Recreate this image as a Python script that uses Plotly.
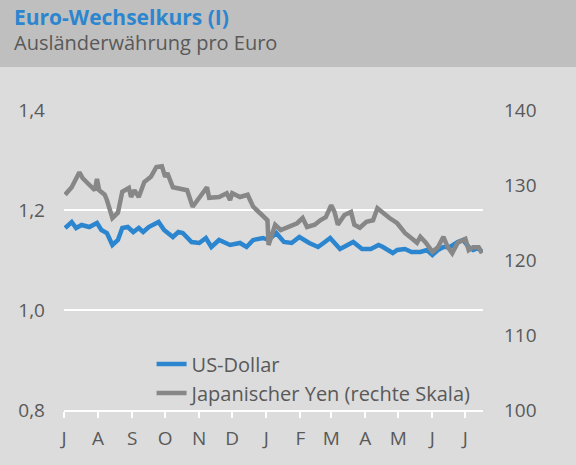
import plotly.graph_objects as go

# ---- data ----
usd_dates = ["2018-07-02", "2018-07-08", "2018-07-12", "2018-07-17", "2018-07-24", "2018-07-31",
             "2018-08-04", "2018-08-09", "2018-08-14", "2018-08-19", "2018-08-23", "2018-08-28",
             "2018-09-02", "2018-09-07", "2018-09-11", "2018-09-16", "2018-09-25", "2018-09-30",
             "2018-10-08", "2018-10-13", "2018-10-17", "2018-10-25", "2018-11-01", "2018-11-07",
             "2018-11-12", "2018-11-19", "2018-11-29", "2018-12-08", "2018-12-14", "2018-12-20",
             "2018-12-29", "2019-01-03", "2019-01-10", "2019-01-17", "2019-01-24", "2019-01-31",
             "2019-02-09", "2019-02-17", "2019-02-22", "2019-02-28", "2019-03-09", "2019-03-15",
             "2019-03-21", "2019-03-29", "2019-04-06", "2019-04-13", "2019-04-17", "2019-04-26",
             "2019-04-30", "2019-05-07", "2019-05-13", "2019-05-21", "2019-05-27", "2019-06-01",
             "2019-06-06", "2019-06-11", "2019-06-17", "2019-06-24", "2019-06-29", "2019-07-04",
             "2019-07-08", "2019-07-13", "2019-07-16"]
usd_values = [1.164, 1.176, 1.164, 1.170, 1.166, 1.174,
              1.160, 1.154, 1.130, 1.140, 1.164, 1.166,
              1.156, 1.164, 1.156, 1.166, 1.176, 1.160,
              1.146, 1.156, 1.154, 1.136, 1.134, 1.144,
              1.126, 1.140, 1.130, 1.134, 1.126, 1.140,
              1.144, 1.140, 1.154, 1.136, 1.134, 1.146,
              1.134, 1.126, 1.134, 1.144, 1.122, 1.130,
              1.136, 1.122, 1.122, 1.130, 1.126, 1.114,
              1.120, 1.122, 1.116, 1.116, 1.120, 1.110,
              1.120, 1.126, 1.126, 1.136, 1.140, 1.126,
              1.120, 1.124, 1.116]

jpy_dates = ["2018-07-02", "2018-07-08", "2018-07-15", "2018-07-18", "2018-07-29", "2018-07-31",
             "2018-08-02", "2018-08-07", "2018-08-09", "2018-08-14", "2018-08-19", "2018-08-23",
             "2018-08-29", "2018-08-31", "2018-09-03", "2018-09-07", "2018-09-12", "2018-09-18",
             "2018-09-23", "2018-09-28", "2018-10-01", "2018-10-03", "2018-10-08", "2018-10-16",
             "2018-10-21", "2018-10-26", "2018-11-01", "2018-11-08", "2018-11-10", "2018-11-19",
             "2018-11-26", "2018-11-29", "2018-12-01", "2018-12-08", "2018-12-15", "2018-12-20",
             "2018-12-28", "2019-01-02", "2019-01-03", "2019-01-09", "2019-01-14", "2019-01-20",
             "2019-01-29", "2019-02-03", "2019-02-07", "2019-02-14", "2019-02-19", "2019-02-24",
             "2019-03-01", "2019-03-04", "2019-03-07", "2019-03-13", "2019-03-19", "2019-03-22",
             "2019-03-27", "2019-04-02", "2019-04-08", "2019-04-12", "2019-04-19", "2019-04-23",
             "2019-04-30", "2019-05-07", "2019-05-13", "2019-05-18", "2019-05-21", "2019-05-26",
             "2019-06-01", "2019-06-06", "2019-06-11", "2019-06-15", "2019-06-19", "2019-06-24",
             "2019-07-01", "2019-07-04", "2019-07-08", "2019-07-13", "2019-07-16"]
jpy_values = [128.7, 129.7, 131.7, 130.9, 129.3, 130.8,
              129.3, 128.7, 128.0, 125.6, 126.3, 129.1,
              129.6, 128.4, 129.3, 128.4, 130.4, 131.1,
              132.4, 132.5, 131.1, 131.6, 129.7, 129.5,
              129.3, 127.1, 128.3, 129.7, 128.3, 128.4,
              128.9, 128.0, 128.9, 128.4, 128.7, 127.1,
              126.0, 125.3, 122.0, 124.7, 124.0, 124.4,
              124.9, 125.6, 124.4, 124.7, 125.3, 125.7,
              127.3, 126.4, 124.7, 126.0, 126.4, 124.7,
              124.3, 125.1, 125.3, 126.9, 126.0, 125.6,
              124.9, 123.6, 122.9, 122.3, 123.1, 122.3,
              121.1, 121.7, 123.1, 121.7, 120.9, 122.3,
              122.8, 121.3, 121.7, 121.7, 120.9]

month_ticks = ["2018-07-01", "2018-08-01", "2018-09-01", "2018-10-01", "2018-11-01", "2018-12-01",
               "2019-01-01", "2019-02-01", "2019-03-01", "2019-04-01", "2019-05-01", "2019-06-01",
               "2019-07-01"]
month_labels = ["J", "A", "S", "O", "N", "D", "J", "F", "M", "A", "M", "J", "J"]
left_ticks = [0.8, 1.0, 1.2, 1.4]
right_ticks = [100, 110, 120, 130, 140]

BLUE = "#2c86cf"
GREY = "#878787"
TXT = "#595959"
FONT = "Open Sans"

fig = go.Figure()
fig.add_trace(go.Scatter(x=usd_dates, y=usd_values, name="US-Dollar", mode="lines",
                         line=dict(color=BLUE, width=4.5), legendgroup="a"))
fig.add_trace(go.Scatter(x=jpy_dates, y=jpy_values, name="Japanischer Yen (rechte Skala)",
                         mode="lines", line=dict(color=GREY, width=4.5), yaxis="y2",
                         legendgroup="b"))

fig.update_layout(
    width=576, height=465,
    margin=dict(l=64, r=93, t=110, b=55),
    paper_bgcolor="#dcdcdc", plot_bgcolor="#dcdcdc",
    separators=", ",
    font=dict(family=FONT, size=19, color=TXT),
    showlegend=True,
    legend=dict(x=0.209, y=0.218, xanchor="left", yanchor="top", bgcolor="rgba(0,0,0,0)",
                font=dict(size=20, color=TXT, family=FONT), tracegroupgap=0),
    xaxis=dict(type="date", range=["2018-07-01", "2019-07-17"], showgrid=False,
               showline=True, linecolor="white", linewidth=2,
               ticks="outside", tickcolor="white", ticklen=6, tickwidth=2,
               tickvals=month_ticks, ticktext=month_labels, ticklabelstandoff=4,
               tickfont=dict(size=19, color=TXT, family=FONT), zeroline=False),
    yaxis=dict(range=[0.8, 1.4], tickvals=left_ticks, tickformat=".1f",
               showgrid=True, gridcolor="white", gridwidth=2, zeroline=False,
               ticks="", ticklabelstandoff=18, tickfont=dict(size=19, color=TXT, family=FONT)),
    yaxis2=dict(range=[100, 140], tickvals=right_ticks, overlaying="y", side="right",
                showgrid=False, zeroline=False, ticks="", ticklabelstandoff=20,
                tickfont=dict(size=19, color=TXT, family=FONT)),
    shapes=[dict(type="rect", xref="paper", yref="paper", x0=-0.2, x1=1.3,
                 y0=1 + 43 / 300, y1=1 + 110 / 300 + 0.01,
                 fillcolor="#bfbfbf", line=dict(width=0), layer="below")],
    annotations=[
        dict(text="<b>Euro-Wechselkurs (I)</b>", xref="paper", yref="paper",
             x=-52 / 419, y=1 + (110 - 17) / 300, xanchor="left", yanchor="middle",
             showarrow=False, font=dict(size=21, color=BLUE, family=FONT)),
        dict(text="Ausländerwährung pro Euro", xref="paper", yref="paper",
             x=-52 / 419, y=1 + (110 - 43) / 300, xanchor="left", yanchor="middle",
             showarrow=False, font=dict(size=20, color=TXT, family=FONT)),
    ],
)

fig.write_html("out.html", config={"displayModeBar": False},
               post_script="document.body.style.margin='0';")
